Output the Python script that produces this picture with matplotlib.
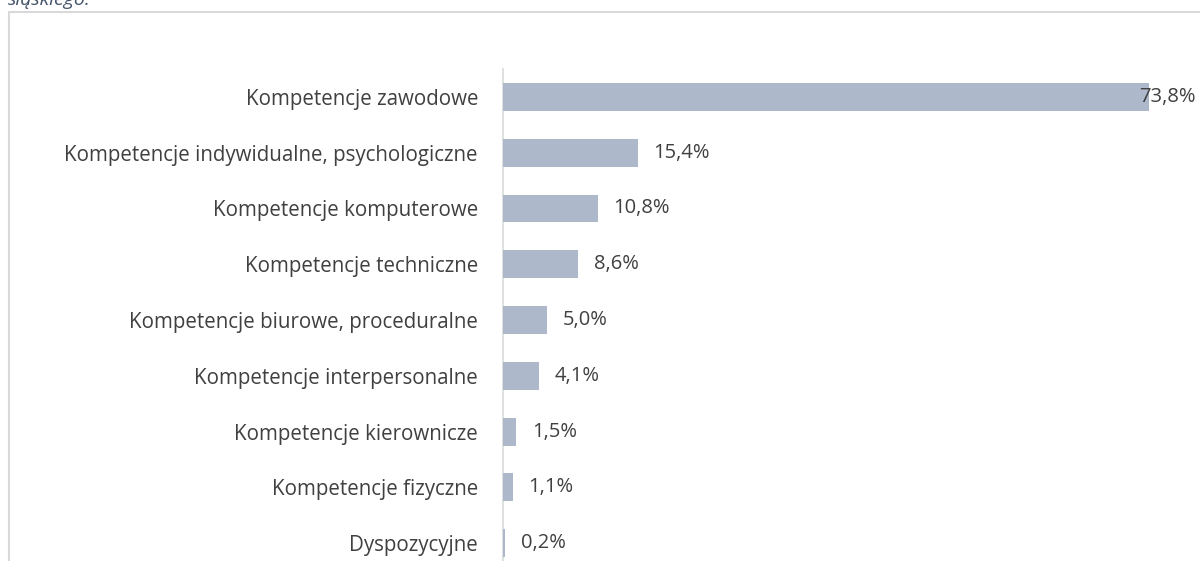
import matplotlib.pyplot as plt
from matplotlib.patches import Rectangle

categories = [
    'Kompetencje zawodowe',
    'Kompetencje indywidualne, psychologiczne',
    'Kompetencje komputerowe',
    'Kompetencje techniczne',
    'Kompetencje biurowe, proceduralne',
    'Kompetencje interpersonalne',
    'Kompetencje kierownicze',
    'Kompetencje fizyczne',
    'Dyspozycyjne',
]
values = [73.8, 15.4, 10.8, 8.6, 5.0, 4.1, 1.5, 1.1, 0.2]

W, H = 1200, 561
plt.rcParams['font.family'] = ['Open Sans', 'DejaVu Sans']

fig = plt.figure(figsize=(W / 100, H / 100), dpi=100)

# frame of the chart area (cut off at right and bottom)
fig.patches.append(Rectangle((8.5 / W, -0.1), 1.2, 1 - 11.5 / H + 0.1,
                             transform=fig.transFigure, fill=False,
                             edgecolor='#d9d9d9', linewidth=1.5))

# fragment of the caption above
fig.text(8 / W, 1 - 5 / H, 'śląskiego.', style='italic', color='#44546a',
         fontsize=14, ha='left', va='baseline')

# axes placed in pixels: axis line at x=503, bands from y=69 to y=571
x0, x1 = 503, 1196
ytop, ybot = 69, 571
ax = fig.add_axes([x0 / W, 1 - ybot / H, (x1 - x0) / W, (ybot - ytop) / H])
xmax = (x1 - x0) / 8.753
ax.set_xlim(0, xmax)
ax.set_ylim(len(categories) - 0.5, -0.5)

pos = range(len(categories))
ax.barh(pos, values, height=0.5, color='#adb9ca', zorder=2)

renderer = fig.canvas.get_renderer()
for p, v in zip(pos, values):
    t = ax.text(v + 1.8, p, f'{v:.1f}%'.replace('.', ','), va='center',
                ha='left', fontsize=14.5, color='#404040', zorder=3)
    bb = t.get_window_extent(renderer).transformed(ax.transData.inverted())
    if bb.x1 > xmax:
        # does not fit: keep inside the chart area like Excel does
        t.set_x(xmax)
        t.set_ha('right')

ax.set_yticks(list(pos))
ax.set_yticklabels(categories, fontsize=14.8, color='#404040')
ax.tick_params(axis='y', length=0, pad=18)
ax.set_xticks([])
for s in ['top', 'right', 'bottom']:
    ax.spines[s].set_visible(False)
ax.spines['left'].set_color('#d9d9d9')
ax.spines['left'].set_linewidth(1.2)
ax.spines['left'].set_zorder(1)
ax.patch.set_visible(False)

fig.savefig('out.png', dpi=100)
